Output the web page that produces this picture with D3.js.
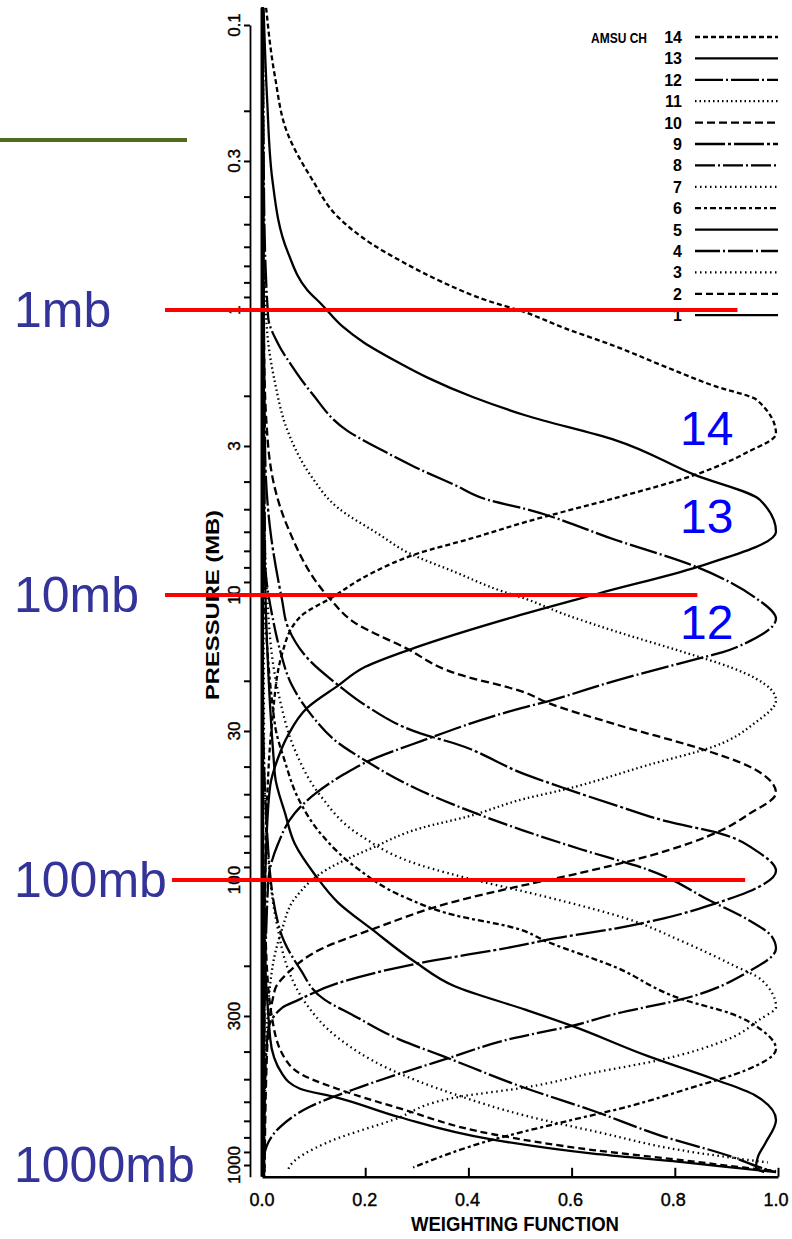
<!DOCTYPE html>
<html>
<head>
<meta charset="utf-8">
<script src="https://cdn.jsdelivr.net/npm/d3@7"></script>
<style>
body { margin: 0; background: #fff; }
svg { display: block; }
text { font-family: "Liberation Sans", Arial, sans-serif; }
</style>
</head>
<body>
<div class="holder"></div>
<script>
"use strict";

// weighting functions: [pressure (mb), weight]
const ch14 = [[0.087,0.008],[0.151,0.025],[0.241,0.05],[0.347,0.097],[0.472,0.148],[0.587,0.214],[0.685,0.278],[0.797,0.35],[0.929,0.44],[1.01,0.506],[1.16,0.59],[1.34,0.687],[1.58,0.784],[1.85,0.881],[2.07,0.963],[2.72,1.0],[3.15,0.945],[3.79,0.842],[4.57,0.687],[5.55,0.512],[6.31,0.41],[7.18,0.3],[8.37,0.214],[10.2,0.136],[11.9,0.075],[16.1,0.039],[27.5,0.02],[52,0.01],[117,0.006],[1100,0.004]];
const ch13 = [[0.087,0.003],[0.183,0.01],[0.347,0.02],[0.625,0.05],[0.85,0.088],[0.96,0.117],[1.14,0.156],[1.30,0.198],[1.51,0.26],[1.73,0.323],[2.02,0.41],[2.34,0.512],[2.86,0.687],[3.79,0.842],[4.64,0.969],[6.0,1.0],[7.98,0.846],[9.84,0.658],[11.9,0.492],[15.3,0.298],[17.9,0.2],[20.8,0.148],[24.8,0.089],[31.2,0.05],[37.4,0.031],[46.6,0.016],[78,0.008],[176,0.004],[1100,0.003]];
const ch12 = [[0.087,0.002],[0.41,0.004],[1.06,0.012],[1.31,0.031],[1.57,0.058],[1.96,0.097],[2.66,0.167],[3.1,0.233],[3.56,0.298],[4.11,0.375],[4.64,0.44],[4.99,0.512],[6.4,0.687],[7.98,0.846],[10.2,0.959],[12.1,1.0],[14.6,0.946],[15.9,0.895],[16.6,0.856],[20.0,0.687],[23.6,0.556],[25.3,0.492],[32.5,0.311],[38.8,0.2],[42.4,0.161],[49.9,0.103],[58.2,0.064],[74.8,0.031],[102,0.012],[300,0.005],[1100,0.003]];
const ch11 = [[0.087,0.002],[0.62,0.004],[1.19,0.01],[1.79,0.025],[2.66,0.05],[3.86,0.097],[4.95,0.148],[6.1,0.226],[7.1,0.284],[8.3,0.375],[9.7,0.467],[10.3,0.512],[11.6,0.584],[13.4,0.687],[15.8,0.817],[18.0,0.914],[19.6,0.96],[23.4,1.0],[28.1,0.959],[33.9,0.881],[39.5,0.751],[48.1,0.589],[51.8,0.512],[59.9,0.4],[65.6,0.311],[77.2,0.214],[91.5,0.128],[116,0.064],[149,0.039],[204,0.02],[395,0.008],[1100,0.004]];
const ch10 = [[0.087,0.001],[1.38,0.004],[3.0,0.012],[5.78,0.05],[10.3,0.132],[12.5,0.18],[15.3,0.278],[18.8,0.375],[22.0,0.512],[23.9,0.556],[28.4,0.687],[35.3,0.868],[39.8,0.946],[49.5,1.0],[58.9,0.946],[66.8,0.895],[82.5,0.751],[94.5,0.619],[106,0.492],[119,0.375],[149,0.214],[174,0.117],[212,0.05],[243,0.025],[395,0.01],[1100,0.005]];
const ch9 = [[0.087,0.001],[3.1,0.006],[5.9,0.016],[10.4,0.039],[12.9,0.05],[16.7,0.089],[20.7,0.148],[24.3,0.2],[30.7,0.311],[33.2,0.375],[42.6,0.512],[47.7,0.589],[54.6,0.687],[62.0,0.784],[69,0.895],[79.7,0.965],[93,1.0],[110,0.946],[121,0.881],[136,0.784],[148,0.687],[162,0.556],[170,0.5],[197,0.298],[230,0.148],[264,0.07],[281,0.039],[337,0.012],[505,0.006],[1100,0.004]];
const ch8 = [[0.087,0.001],[7.5,0.006],[12.1,0.021],[15.6,0.035],[20.7,0.058],[26.5,0.097],[33.0,0.148],[38.0,0.2],[48.8,0.311],[57.7,0.409],[66.8,0.506],[78,0.62],[92,0.751],[119,0.875],[138,0.946],[158,0.992],[174,1.0],[210,0.946],[262,0.817],[295,0.687],[325,0.603],[358,0.492],[428,0.352],[533,0.191],[625,0.093],[736,0.035],[938,0.004],[1100,0.002]];
const ch7 = [[0.087,0.001],[4.6,0.004],[14.3,0.016],[23.4,0.035],[35,0.064],[50.4,0.113],[69.7,0.191],[88.6,0.307],[101,0.424],[110,0.512],[119,0.589],[136,0.706],[164,0.817],[198,0.914],[225,0.973],[279,1.0],[308,0.969],[363,0.905],[428,0.774],[475,0.644],[533,0.516],[576,0.385],[695,0.255],[835,0.126],[1010,0.054],[1050,0.05]];
const ch6 = [[0.087,0.001],[7.6,0.004],[28.4,0.025],[38.6,0.045],[51.5,0.07],[69.7,0.117],[89.8,0.181],[115,0.278],[133,0.375],[147,0.49],[165,0.556],[202,0.687],[262,0.817],[295,0.914],[337,0.973],[392,1.0],[466,0.94],[533,0.839],[625,0.71],[711,0.58],[815,0.449],[1020,0.294]];
const ch5 = [[0.087,0.001],[5,0.004],[42.6,0.025],[58.4,0.045],[74.8,0.064],[95.8,0.103],[120,0.148],[149,0.214],[194,0.298],[236,0.375],[285,0.512],[325,0.603],[415,0.751],[501,0.881],[569,0.959],[695,1.0],[840,0.979],[934,0.965],[1020,0.961],[1060,0.977]];
const ch4 = [[0.087,0.001],[23,0.002],[78,0.012],[150,0.035],[205,0.074],[264,0.123],[298,0.177],[363,0.268],[415,0.352],[540,0.516],[645,0.644],[787,0.774],[938,0.916],[1020,0.969],[1060,1.0]];
const ch3 = [[0.087,0.001],[35,0.004],[100,0.016],[149,0.031],[204,0.05],[269,0.084],[358,0.148],[458,0.245],[565,0.375],[671,0.512],[770,0.658],[886,0.813],[980,0.984]];
const ch2 = [[0.087,0.001],[52,0.002],[176,0.008],[308,0.02],[424,0.045],[478,0.074],[540,0.146],[633,0.268],[780,0.449],[886,0.644],[960,0.813],[1020,0.936],[1050,1.0]];
const ch1 = [[0.087,0.001],[100,0.002],[360,0.016],[478,0.039],[540,0.074],[580,0.146],[680,0.268],[815,0.449],[912,0.644],[975,0.813],[1030,0.936],[1060,1.0]];

const channels = [14, 13, 12, 11, 10, 9, 8, 7, 6, 5, 4, 3, 2, 1];
const curves = { 14: ch14, 13: ch13, 12: ch12, 11: ch11, 10: ch10, 9: ch9, 8: ch8, 7: ch7, 6: ch6, 5: ch5, 4: ch4, 3: ch3, 2: ch2, 1: ch1 };

const pressureTicks = [0.1, 0.3, 1, 3, 10, 30, 100, 300, 1000];
const pressureLabels = ["0.1", "0.3", "1", "3", "10", "30", "100", "300", "1000"];
const weightTicks = [0, 0.2, 0.4, 0.6, 0.8, 1.0];
const weightLabels = ["0.0", "0.2", "0.4", "0.6", "0.8", "1.0"];

// slide overlay
const levelLevels = [1, 10, 100, 1000];
const levelLabels = ["1mb", "10mb", "100mb", "1000mb"];
const redLevels = [1, 10, 100];
const redEnds = [0.925, 0.847, 0.94];
const peakChannels = ["14", "13", "12"];
const peakLabelLevels = [2.6, 5.3, 12.4];

// line style per channel
const dashes = {
  14: "5,3", 13: null, 12: "28,3,2,3", 11: "1.5,3", 10: "8,4", 9: "30,3,3,3",
  8: "20,3,2,3", 7: "1.5,3.5", 6: "6,3,3,3", 5: null, 4: "25,3,2,3",
  3: "1.5,3.5", 2: "7,4", 1: null
};

const w = 792;
const h = 1239;

const svg = d3.select(".holder").append("svg")
  .attr("width", w)
  .attr("height", h);

const x = d3.scaleLinear().domain([0, 1]).range([262, 776]);
const y = d3.scaleLog().domain([0.1, 1000]).range([25, 1165]);

// y axis (separate tick line left of the frame)
const yAxisScale = y.copy().domain([0.1, 1100]).range([y(0.1), y(1100)]);
const minorTicks = [];
[0.1, 1, 10, 100].forEach((d) => {
  for (let k = 1; k <= 9; k++) minorTicks.push(d * k);
});
minorTicks.push(1000);

const yAxisG = svg.append("g").attr("transform", "translate(250,0)");
yAxisG.call(d3.axisLeft(yAxisScale).tickValues(minorTicks).tickSize(6).tickSizeOuter(0).tickFormat(""))
  .call((g) => g.select(".domain").attr("stroke-width", 1.8))
  .call((g) => g.selectAll(".tick line").attr("stroke-width", 2));

const yLabels = svg.append("g").attr("transform", "translate(250,0)");
yLabels.selectAll("text")
  .data(pressureTicks)
  .enter()
  .append("text")
  .attr("transform", (d) => "translate(-10," + yAxisScale(d) + ") rotate(-90)")
  .attr("text-anchor", "middle")
  .attr("font-size", 17)
  .attr("stroke", "#000")
  .attr("stroke-width", 0.4)
  .text((d, i) => pressureLabels[i]);

svg.append("text")
  .attr("transform", "translate(219,605) rotate(-90)")
  .attr("text-anchor", "middle")
  .attr("font-size", 19)
  .attr("font-weight", "bold")
  .attr("textLength", 190)
  .attr("lengthAdjust", "spacingAndGlyphs")
  .text("PRESSURE (MB)");

// frame: left edge and bottom axis
svg.append("line")
  .attr("x1", x(0)).attr("x2", x(0))
  .attr("y1", y(0.087)).attr("y2", y(1100))
  .attr("stroke", "#000").attr("stroke-width", 3);

const xAxisG = svg.append("g").attr("transform", "translate(0," + y(1100) + ")");
xAxisG.call(d3.axisTop(x.copy().range([262, 778])).tickValues(weightTicks).tickSize(9).tickSizeOuter(0).tickFormat(""))
  .call((g) => g.select(".domain").attr("stroke-width", 2.5))
  .call((g) => g.selectAll(".tick line").attr("stroke-width", 2));

svg.append("g").selectAll("text")
  .data(weightTicks)
  .enter()
  .append("text")
  .attr("x", (d) => x(d))
  .attr("y", y(1100) + 29)
  .attr("text-anchor", "middle")
  .attr("font-size", 18)
  .attr("stroke", "#000")
  .attr("stroke-width", 0.4)
  .text((d, i) => weightLabels[i]);

svg.append("text")
  .attr("x", 515)
  .attr("y", 1231)
  .attr("text-anchor", "middle")
  .attr("font-size", 21)
  .attr("font-weight", "bold")
  .attr("textLength", 208)
  .attr("lengthAdjust", "spacingAndGlyphs")
  .text("WEIGHTING FUNCTION");

// weighting function curves
const line = d3.line()
  .x((d) => x(d[1]))
  .y((d) => y(d[0]))
  .curve(d3.curveMonotoneY);

svg.append("g")
  .selectAll("path")
  .data(channels)
  .enter()
  .append("path")
  .attr("d", (c) => line(curves[c]))
  .attr("fill", "none")
  .attr("stroke", "#000")
  .attr("stroke-width", 2.3)
  .attr("stroke-dasharray", (c) => dashes[c]);

// legend
const legend = svg.append("g");
const rowY = (i) => 37 + i * 21.4;
legend.append("text")
  .attr("x", 591).attr("y", rowY(0) + 6)
  .attr("font-size", 15)
  .attr("font-weight", "bold")
  .attr("textLength", 56)
  .attr("lengthAdjust", "spacingAndGlyphs")
  .text("AMSU CH");
legend.selectAll(".num")
  .data(channels)
  .enter()
  .append("text")
  .attr("class", "num")
  .attr("x", 682)
  .attr("y", (d, i) => rowY(i) + 6)
  .attr("text-anchor", "end")
  .attr("font-size", 16)
  .attr("font-weight", "bold")
  .text((d) => d);
legend.selectAll("line")
  .data(channels)
  .enter()
  .append("line")
  .attr("x1", 695).attr("x2", 778)
  .attr("y1", (d, i) => rowY(i)).attr("y2", (d, i) => rowY(i))
  .attr("stroke", "#000")
  .attr("stroke-width", 2.3)
  .attr("stroke-dasharray", (c) => dashes[c]);

// slide overlay: green rule, red level lines and labels
svg.append("line")
  .attr("x1", 0).attr("x2", 187)
  .attr("y1", 140).attr("y2", 140)
  .attr("stroke", "#4f6b1c").attr("stroke-width", 4);

svg.append("g").selectAll("line")
  .data(redLevels)
  .enter()
  .append("line")
  .attr("x1", (d, i) => (i === 2 ? 172 : 165))
  .attr("x2", (d, i) => x(redEnds[i]))
  .attr("y1", (d) => y(d)).attr("y2", (d) => y(d))
  .attr("stroke", "#ff0000").attr("stroke-width", 4);

svg.append("g").selectAll("text")
  .data(levelLevels)
  .enter()
  .append("text")
  .attr("x", 14)
  .attr("y", (d) => y(d) + 17)
  .attr("font-size", 50)
  .attr("fill", "#333399")
  .text((d, i) => levelLabels[i]);

svg.append("g").selectAll("text")
  .data(peakLabelLevels)
  .enter()
  .append("text")
  .attr("x", 680)
  .attr("y", (d) => y(d) + 17)
  .attr("font-size", 48)
  .attr("fill", "#0000ff")
  .text((d, i) => peakChannels[i]);
</script>
</body>
</html>
